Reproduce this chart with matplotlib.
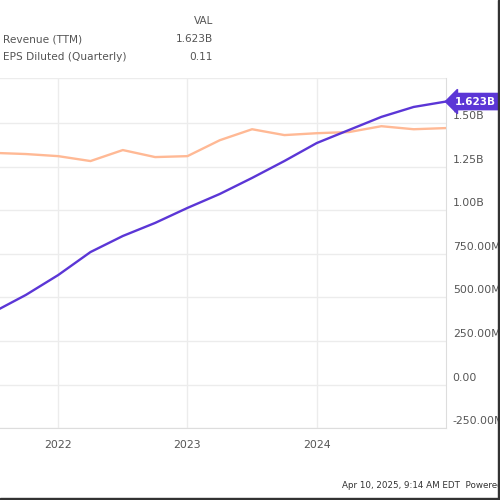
import numpy as np
import matplotlib.pyplot as plt
import matplotlib.transforms as mtransforms
from matplotlib.patches import Rectangle

# quarter-end dates (decimal years)
quarters = [2021.5, 2021.75, 2022.0, 2022.25, 2022.5, 2022.75, 2023.0, 2023.25,
            2023.5, 2023.75, 2024.0, 2024.25, 2024.5, 2024.75, 2025.0]

# Revenue (TTM), in millions
revenue = [416, 514, 628, 760, 852, 927, 1013, 1093,
           1185, 1282, 1385, 1460, 1535, 1592, 1623]

# EPS Diluted (Quarterly)
eps = [0.099, 0.0985, 0.0976, 0.0955, 0.1002, 0.0972, 0.0976, 0.1044,
       0.1091, 0.1066, 0.1074, 0.1079, 0.1104, 0.1091, 0.1096]

ytick_vals = [-250, 0, 250, 500, 750, 1000, 1250, 1500]
ytick_labels = ['-250.00M', '0.00', '250.00M', '500.00M', '750.00M', '1.00B', '1.25B', '1.50B']
xtick_vals = [2022, 2023, 2024]
xtick_labels = ['2022', '2023', '2024']

purple = '#5b36d6'
orange = '#ffb995'
grid_c = '#ececec'
text_c = '#555555'

fig = plt.figure(figsize=(5, 5), dpi=100)
ax = fig.add_axes([0, 0.144, 0.892, 0.70])
ax.set_xlim(2021.55, 2025.0)
ax.set_ylim(-249, 1758)

for v in ytick_vals:
    ax.axhline(v, color=grid_c, lw=1, zorder=0)
for v in xtick_vals:
    ax.axvline(v, color=grid_c, lw=1, zorder=0)
ax.axhline(1758, color=grid_c, lw=1, zorder=0)

ax.set_xticks([])
ax.set_yticks([])
for s in ['left', 'top']:
    ax.spines[s].set_visible(False)
ax.spines['right'].set_color('#dddddd')
ax.spines['bottom'].set_color('#dddddd')

# EPS on a hidden secondary scale
ax2 = ax.twinx()
ax2.set_ylim(-0.0186, 0.131)
ax2.set_yticks([])
for s in ax2.spines.values():
    s.set_visible(False)
ax2.plot(quarters, eps, color=orange, lw=1.7, solid_joinstyle='round')

ax3 = ax.twinx()
ax3.set_ylim(ax.get_ylim())
ax3.set_yticks([])
for s in ax3.spines.values():
    s.set_visible(False)
ax3.plot(quarters, revenue, color=purple, lw=1.7, solid_joinstyle='round')

# y tick labels, a little above gridlines
ytrans = mtransforms.blended_transform_factory(ax.transAxes, ax.transData)
off = mtransforms.ScaledTranslation(0, 5 / 72, fig.dpi_scale_trans)
for v, lab in zip(ytick_vals, ytick_labels):
    ax.text(1.015, v, lab, transform=ytrans + off, ha='left', va='center',
            fontsize=7.8, color=text_c, clip_on=False)

xtrans = mtransforms.blended_transform_factory(ax.transData, ax.transAxes)
for v, lab in zip(xtick_vals, xtick_labels):
    ax.text(v, -0.05, lab, transform=xtrans, ha='center', va='center',
            fontsize=7.8, color=text_c, clip_on=False)

# value tag for last revenue
ax3.annotate(f'{revenue[-1] / 1000:.3f}B', xy=(quarters[-1], revenue[-1]),
             xytext=(6, 0), textcoords='offset points', ha='left', va='center',
             fontsize=7.5, color='white', fontweight='bold', annotation_clip=False,
             bbox=dict(boxstyle='larrow,pad=0.3', fc=purple, ec=purple))

# header
fig.text(0.426, 0.958, 'VAL', ha='right', va='center', fontsize=7.5, color=text_c)
fig.text(0.006, 0.921, 'Revenue (TTM)', ha='left', va='center', fontsize=7.6, color=text_c)
fig.text(0.426, 0.921, f'{revenue[-1] / 1000:.3f}B', ha='right', va='center', fontsize=7.6, color=text_c)
fig.text(0.006, 0.886, 'EPS Diluted (Quarterly)', ha='left', va='center', fontsize=7.6, color=text_c)
fig.text(0.426, 0.886, f'{eps[-1]:.2f}', ha='right', va='center', fontsize=7.6, color=text_c)

fig.text(0.684, 0.03, 'Apr 10, 2025, 9:14 AM EDT  Powered by YCHARTS', ha='left', va='center',
         fontsize=6.3, color='#333333')

# dark border on right and bottom edges
fig.patches.append(Rectangle((0.995, 0), 0.005, 1, transform=fig.transFigure, color='#333333'))
fig.patches.append(Rectangle((0, 0), 1, 0.005, transform=fig.transFigure, color='#333333'))

fig.savefig('out.png', dpi=100)
